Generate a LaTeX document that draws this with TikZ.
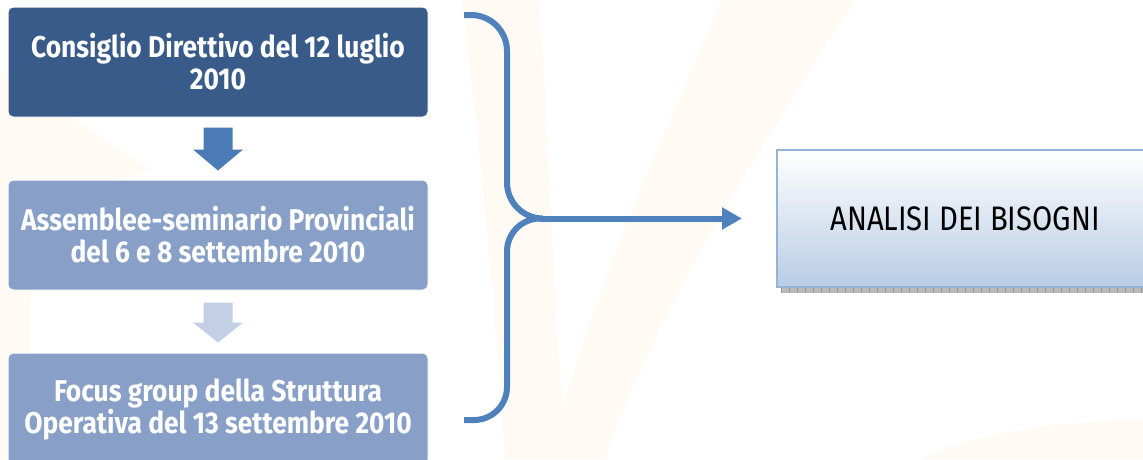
\documentclass[tikz,border=0pt]{standalone}
\usepackage{fontspec}
\setmainfont{Fira Sans}
\newfontfamily\boxfont[FakeStretch=0.88]{Fira Sans}
\newfontfamily\anafont[FakeStretch=0.86]{Fira Sans}
\usetikzlibrary{arrows.meta,positioning,calc}
\definecolor{darkbox}{HTML}{395B89}
\definecolor{lightbox}{HTML}{88A0C8}
\definecolor{arrowA}{HTML}{4A7BB7}
\definecolor{arrowB}{HTML}{C2CFE4}
\definecolor{bracecol}{HTML}{4F81BD}
\definecolor{anaborder}{HTML}{95B3D7}
\definecolor{anabottom}{HTML}{B8CCE4}
\definecolor{cream}{HTML}{FFFAF3}
\tikzset{
  stepbox/.style={rounded corners=5pt, minimum width=420pt, minimum height=110pt,
    inner sep=0pt, align=center, text=white, font=\boxfont\bfseries\fontsize{30}{32}\selectfont,
    draw=white, line width=1pt},
  bracepath/.style={draw=bracecol, line width=6pt, line cap=butt},
  anabox/.style={draw=anaborder, line width=2pt, top color=white, bottom color=anabottom,
    minimum width=376pt, minimum height=137pt, inner sep=0pt,
    font=\anafont\fontsize{34}{36}\selectfont, text=black}
}
\begin{document}
\begin{tikzpicture}[x=1pt,y=-1pt]
\useasboundingbox (0,0) rectangle (1143,459);
\clip (0,0) rectangle (1143,459);
% faint watermark
\fill[cream] (462,0) -- (540,0) .. controls (548,150) and (555,300) .. (565,459) -- (505,459) .. controls (495,300) and (480,150) .. cycle;
\fill[cream] (722,0) -- (855,0) .. controls (760,150) and (660,300) .. (605,459) -- (548,459) .. controls (590,300) and (660,140) .. cycle;
\fill[cream] (0,70) -- (30,90) -- (150,170) -- (40,200) .. controls (25,300) and (30,400) .. (35,459) -- (0,459) -- cycle;
\fill[cream] (920,459) .. controls (980,430) and (1080,420) .. (1143,420) -- (1143,459) -- cycle;
% boxes
\node[stepbox, fill=darkbox] (b1) at (218,62) {Consiglio Direttivo del 12 luglio\\2010};
\node[stepbox, fill=lightbox] (b2) at (218,235) {Assemblee-seminario Provinciali\\del 6 e 8 settembre 2010};
\node[stepbox, fill=lightbox, minimum height=112pt] (b3) at (218,409) {Focus group della Struttura\\Operativa del 13 settembre 2010};
% block arrows
\fill[arrowA] ($(b1.south)+(-14.5,10)$) -- ++(29,0) -- ++(0,22) -- ++(10.5,0) -- ($(b2.north)+(0,-9)$) -- ($(b1.south)+(-25,32)$) -- ++(10.5,0) -- cycle;
\fill[arrowB] ($(b2.south)+(-14.5,12)$) -- ++(29,0) -- ++(0,20) -- ++(10.5,0) -- ($(b3.north)+(0,-10)$) -- ($(b2.south)+(-25,32)$) -- ++(10.5,0) -- cycle;
% result box
\fill[gray!55] (781,287) rectangle (1153,293);
\draw[gray!80, line width=6pt, dash pattern=on 1pt off 7pt] (781,290) -- (1153,290);
\node[anabox] (ana) at (965,218.5) {ANALISI DEI BISOGNI};
% brace connector
\coordinate (tipT) at (464,15);
\coordinate (tipB) at (464,420);
\coordinate (mid) at (540,218.5);
\draw[bracepath, rounded corners=36pt] (tipT) -- (507,15) -- (507,218.5) -- (mid);
\draw[bracepath, rounded corners=33pt] (mid) -- (507,218.5) -- (507,420) -- (tipB);
\draw[bracepath, -{Triangle[length=20pt,width=21pt]}, shorten >=34pt] (mid) -- (ana.west);
\end{tikzpicture}
\end{document}
